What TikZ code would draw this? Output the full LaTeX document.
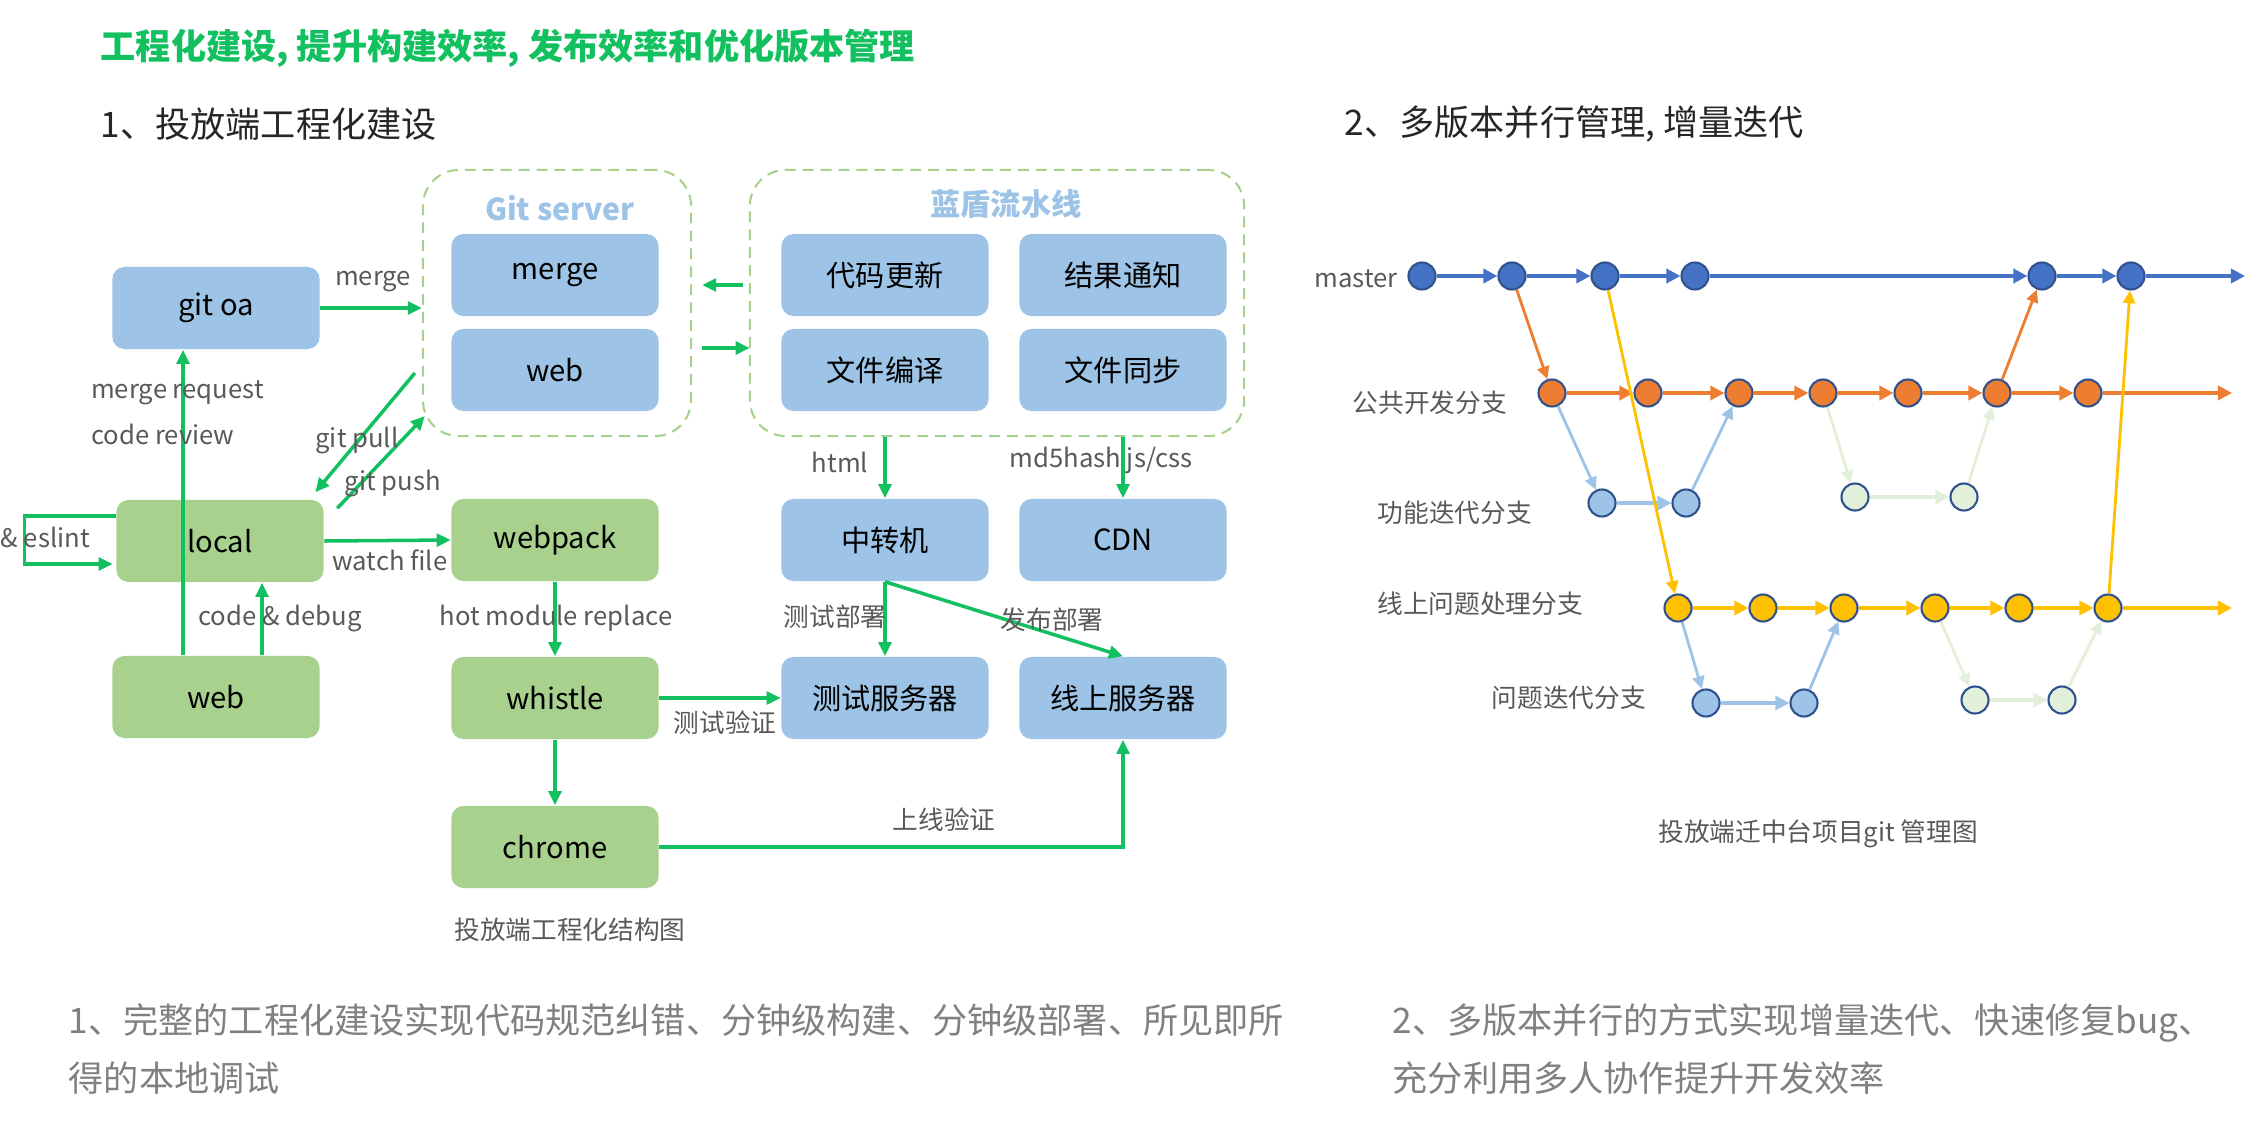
\documentclass[tikz,border=0pt]{standalone}
\usepackage{fontspec}
\setmainfont{Noto Sans CJK SC}
\usepackage{xcolor}
\usepackage{tikz}
\usetikzlibrary{positioning, arrows.meta, calc}
\definecolor{FlowGreen}{RGB}{18,192,96}
\definecolor{BoxBlue}{RGB}{157,195,230}
\definecolor{BoxGreen}{RGB}{169,209,142}
\definecolor{DashGreen}{RGB}{169,209,142}
\definecolor{LabelGray}{RGB}{89,89,89}
\definecolor{TextGray}{RGB}{128,128,128}
\definecolor{HeadDark}{RGB}{38,38,38}
\definecolor{MasterBlue}{RGB}{68,114,196}
\definecolor{RingBlue}{RGB}{47,82,143}
\definecolor{DevOrange}{RGB}{237,125,49}
\definecolor{FixYellow}{RGB}{255,192,0}
\definecolor{FeatBlue}{RGB}{157,195,230}
\definecolor{FeatGreen}{RGB}{226,240,217}
\tikzset{
  pbox/.style={rectangle, rounded corners=0.12cm, minimum width=2.07cm, minimum height=0.82cm, inner sep=0pt, font=\fontsize{8.3}{10}\selectfont},
  bluebox/.style={pbox, fill=BoxBlue},
  greenbox/.style={pbox, fill=BoxGreen},
  dashgroup/.style={rectangle, rounded corners=0.36cm, draw=DashGreen, line width=0.6pt, dash pattern=on 3.1pt off 2pt, inner sep=0pt, minimum height=2.66cm},
  lbl/.style={font=\fontsize{7.3}{9}\selectfont, text=LabelGray, inner sep=1pt},
  heading/.style={anchor=west, inner sep=0pt, font=\fontsize{10}{12}\selectfont},
  note/.style={anchor=west, inner sep=0pt, align=left, text=TextGray, font=\fontsize{10}{16.5}\selectfont},
  flow/.style={-{Triangle[length=4pt,width=3.6pt]}, line width=1pt, FlowGreen},
  commit/.style={circle, draw=RingBlue, line width=0.6pt, minimum size=0.27cm, inner sep=0pt},
  rowarrow/.style={-{Triangle[length=4pt,width=4pt]}, line width=1.1pt},
  jump/.style={-{Triangle[length=3.6pt,width=3.4pt]}, line width=0.8pt},
}
\begin{document}
\begin{tikzpicture}[>=Stealth, x=0.01cm, y=-0.01cm]
  \useasboundingbox (0,0) rectangle (2266,1124);
  % headings
  \node[heading, font=\fontsize{10}{12}\selectfont\bfseries, text=FlowGreen] (title) at (100,48) {工程化建设, 提升构建效率, 发布效率和优化版本管理};
  \node[heading, text=HeadDark] (head1) at (100,124) {1、投放端工程化建设};
  \node[heading, text=HeadDark] (head2) at (1344,124) {2、多版本并行管理, 增量迭代};

  % left: engineering structure
  \node[dashgroup, minimum width=2.68cm] (gitsrv) at (557,303) {};
  \node[dashgroup, minimum width=4.94cm] (ldpipe) at (997,303) {};
  \node[font=\fontsize{8.6}{10}\selectfont\bfseries, text=BoxBlue] (gitsrvt) at (560,208) {Git server};
  \node[font=\fontsize{8.6}{10}\selectfont\bfseries, text=BoxBlue] (ldpipet) at (1006,204) {蓝盾流水线};
  \node[bluebox] (gmerge) at (555,275) {merge};
  \node[bluebox] (gweb) at (555,370) {web};
  \node[bluebox] (dmupd) at (885,275) {代码更新};
  \node[bluebox] (notify) at (1123,275) {结果通知};
  \node[bluebox] (compile) at (885,370) {文件编译};
  \node[bluebox] (fsync) at (1123,370) {文件同步};
  \node[bluebox] (goa) at (216,308) {git oa};
  \node[greenbox] (local) at (220,541) {local};
  \node[greenbox] (web) at (216,697) {web};
  \node[greenbox] (webpack) at (555,540) {webpack};
  \node[greenbox] (whistle) at (555,698) {whistle};
  \node[greenbox] (chrome) at (555,847) {chrome};
  \node[bluebox] (relay) at (885,540) {中转机};
  \node[bluebox] (cdn) at (1123,540) {CDN};
  \node[bluebox] (testsrv) at (885,698) {测试服务器};
  \node[bluebox] (livesrv) at (1123,698) {线上服务器};

  \coordinate (wreview) at ($(web.north)+(-33,0)$);
  \coordinate (wdebug) at ($(web.north)+(46,0)$);
  \draw[flow] (goa.east) -- (goa.east -| gitsrv.west);
  \draw[flow] (wreview) -- (wreview |- goa.south);
  \draw[flow] (wdebug) -- (wdebug |- local.south);
  \draw[flow] ($(local.west)+(0,-25)$) -- ++(-91,0) -- ++(0,48) -- ($(local.west)+(-3,23)$);
  \draw[flow] ($(gitsrv.west)+(-7,70)$) -- ($(local.north east)+(-9,-7)$);
  \draw[flow] ($(local.north east)+(13,9)$) -- ($(gitsrv.west)+(3,113)$);
  \draw[flow] (local.east) -- (webpack.west);
  \draw[flow] (webpack) -- (whistle); \draw[flow] (whistle) -- (chrome);
  \draw[flow] (whistle.east) -- (testsrv.west);
  \draw[flow] (chrome.east) -| (livesrv.south);
  \draw[flow] ($(ldpipe.west)+(-6,-18)$) -- ($(gitsrv.east)+(10,-18)$);
  \draw[flow] ($(gitsrv.east)+(10,45)$) -- ($(ldpipe.west)+(1,45)$);
  \draw[flow] (relay.north |- ldpipe.south) -- (relay.north);
  \draw[flow] (cdn.north |- ldpipe.south) -- (cdn.north);
  \draw[flow] (relay) -- (testsrv); \draw[flow] (relay.south) -- (livesrv.north);

  \node[lbl] (lmerge) at (373,282) {merge};
  \node[lbl, anchor=west] (lmr) at (87,393) {merge request};
  \node[lbl, anchor=west] (lcr) at (87,434) {code review};
  \node[lbl] (lpull) at (357,440) {git pull};
  \node[lbl] (lpush) at (393,483) {git push};
  \node[lbl, anchor=east] (leslint) at (94,537) {\& eslint};
  \node[lbl] (lwatch) at (390,560) {watch file};
  \node[lbl] (lcode) at (280,618) {code \& debug};
  \node[lbl] (lhmr) at (556,618) {hot module replace};
  \node[lbl] (lhtml) at (840,462) {html};
  \node[lbl] (lmd5) at (1101,460) {md5hash js/css};
  \node[lbl] (ltestd) at (835,617) {测试部署};
  \node[lbl] (lreld) at (1052,620) {发布部署};
  \node[lbl] (ltestv) at (725,723) {测试验证};
  \node[lbl] (llivev) at (944,820) {上线验证};
  \node[lbl] (cap1) at (570,930) {投放端工程化结构图};

  % right: branch graph
  \node[commit, fill=MasterBlue] (m1) at (1422,276) {}; \node[commit, fill=MasterBlue] (m2) at (1512,276) {};
  \node[commit, fill=MasterBlue] (m3) at (1605,276) {}; \node[commit, fill=MasterBlue] (m4) at (1695,276) {};
  \node[commit, fill=MasterBlue] (m5) at (2042,276) {}; \node[commit, fill=MasterBlue] (m6) at (2131,276) {};
  \coordinate (mend) at (2245,276);
  \node[commit, fill=DevOrange] (p1) at (1552,393) {}; \node[commit, fill=DevOrange] (p2) at (1648,393) {};
  \node[commit, fill=DevOrange] (p3) at (1739,393) {}; \node[commit, fill=DevOrange] (p4) at (1823,393) {};
  \node[commit, fill=DevOrange] (p5) at (1908,393) {}; \node[commit, fill=DevOrange] (p6) at (1997,393) {};
  \node[commit, fill=DevOrange] (p7) at (2088,393) {};
  \coordinate (pend) at (2232,393);
  \node[commit, fill=FeatBlue] (f1) at (1602,503) {}; \node[commit, fill=FeatBlue] (f2) at (1686,503) {};
  \node[commit, fill=FeatGreen] (g1) at (1855,497) {}; \node[commit, fill=FeatGreen] (g2) at (1964,497) {};
  \node[commit, fill=FixYellow] (h1) at (1678,608) {}; \node[commit, fill=FixYellow] (h2) at (1763,608) {};
  \node[commit, fill=FixYellow] (h3) at (1844,608) {}; \node[commit, fill=FixYellow] (h4) at (1935,608) {};
  \node[commit, fill=FixYellow] (h5) at (2019,608) {}; \node[commit, fill=FixYellow] (h6) at (2108,608) {};
  \coordinate (hend) at (2232,608);
  \node[commit, fill=FeatBlue] (q1) at (1706,703) {}; \node[commit, fill=FeatBlue] (q2) at (1804,703) {};
  \node[commit, fill=FeatGreen] (r1) at (1975,700) {}; \node[commit, fill=FeatGreen] (r2) at (2062,700) {};

  \draw[rowarrow, MasterBlue] (m1) -- (m2); \draw[rowarrow, MasterBlue] (m2) -- (m3);
  \draw[rowarrow, MasterBlue] (m3) -- (m4); \draw[rowarrow, MasterBlue] (m4) -- (m5);
  \draw[rowarrow, MasterBlue] (m5) -- (m6); \draw[rowarrow, MasterBlue] (m6) -- (mend);
  \draw[rowarrow, DevOrange] (p1) -- (p2); \draw[rowarrow, DevOrange] (p2) -- (p3);
  \draw[rowarrow, DevOrange] (p3) -- (p4); \draw[rowarrow, DevOrange] (p4) -- (p5);
  \draw[rowarrow, DevOrange] (p5) -- (p6); \draw[rowarrow, DevOrange] (p6) -- (p7);
  \draw[rowarrow, DevOrange] (p7) -- (pend);
  \draw[rowarrow, FixYellow] (h1) -- (h2); \draw[rowarrow, FixYellow] (h2) -- (h3);
  \draw[rowarrow, FixYellow] (h3) -- (h4); \draw[rowarrow, FixYellow] (h4) -- (h5);
  \draw[rowarrow, FixYellow] (h5) -- (h6); \draw[rowarrow, FixYellow] (h6) -- (hend);
  \draw[rowarrow, FeatBlue] (f1) -- (f2); \draw[rowarrow, FeatGreen] (g1) -- (g2);
  \draw[rowarrow, FeatBlue] (q1) -- (q2); \draw[rowarrow, FeatGreen] (r1) -- (r2);

  \draw[jump, DevOrange] (m2) -- (p1); \draw[jump, DevOrange] (p6) -- (m5);
  \draw[jump, FixYellow] (m3) -- (h1); \draw[jump, FixYellow] (h6) -- (m6);
  \draw[jump, FeatBlue] (p1) -- (f1); \draw[jump, FeatBlue] (f2) -- (p3);
  \draw[jump, FeatGreen] (p4) -- (g1); \draw[jump, FeatGreen] (g2) -- (p6);
  \draw[jump, FeatBlue] (h1) -- (q1); \draw[jump, FeatBlue] (q2) -- (h3);
  \draw[jump, FeatGreen] (h4) -- (r1); \draw[jump, FeatGreen] (r2) -- (h6);

  \node[lbl, anchor=east] (lmaster) at (1402,279) {master};
  \node[lbl, anchor=east] (ldev) at (1511,403) {公共开发分支};
  \node[lbl, anchor=east] (lfeat) at (1536,513) {功能迭代分支};
  \node[lbl, anchor=east] (lfix) at (1587,604) {线上问题处理分支};
  \node[lbl, anchor=east] (lissue) at (1650,698) {问题迭代分支};
  \node[lbl] (cap2) at (1818,834) {投放端迁中台项目git 管理图};

  % notes
  \node[note] (note1) at (68,1049) {1、完整的工程化建设实现代码规范纠错、分钟级构建、分钟级部署、所见即所\\得的本地调试};
  \node[note] (note2) at (1392,1049) {2、多版本并行的方式实现增量迭代、快速修复bug、\\充分利用多人协作提升开发效率};
\end{tikzpicture}
\end{document}
